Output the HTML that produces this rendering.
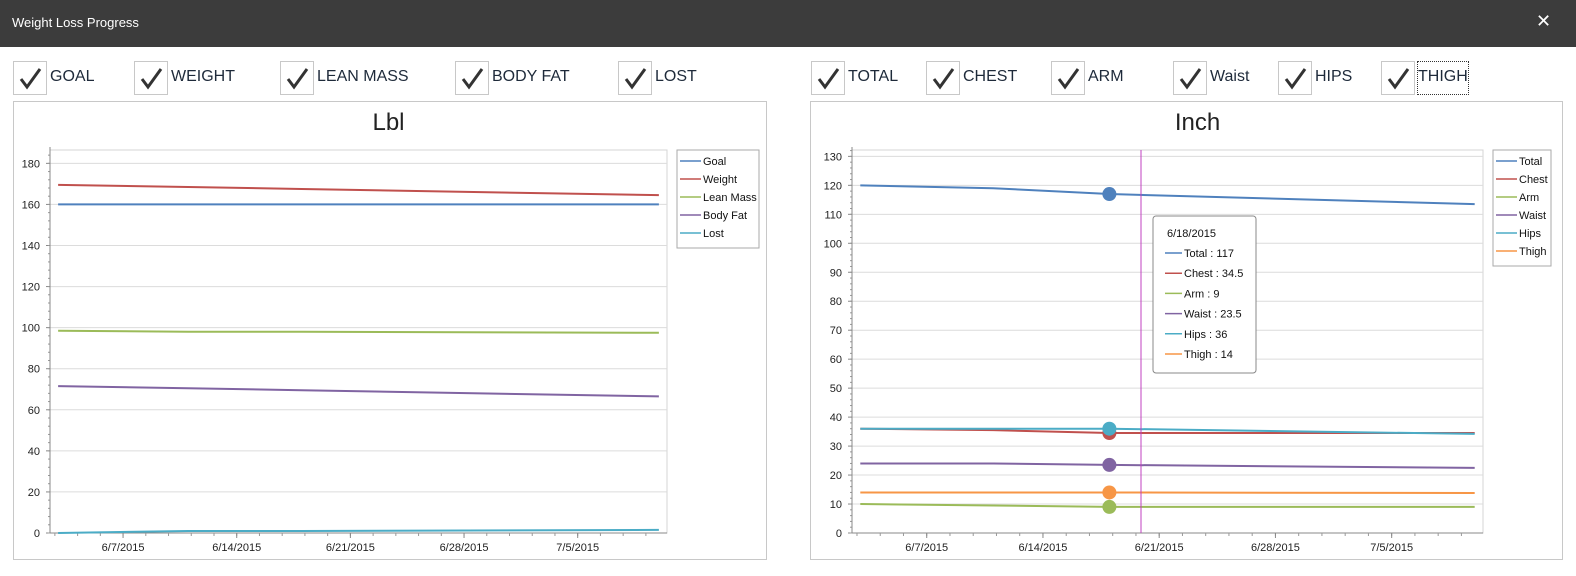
<!DOCTYPE html>
<html><head><meta charset="utf-8">
<style>
body{margin:0;width:1576px;height:576px;overflow:hidden;background:#fff;font-family:"Liberation Sans",sans-serif;position:relative}
.tb{position:absolute;left:0;top:0;width:1576px;height:47px;background:#3c3c3c;color:#fff}
.cb{position:absolute;top:61px;width:32px;height:32px;border:1px solid #c8c8c8;background:#fff}
.cl{position:absolute;top:68px;font-size:16px;color:#1e2a3a}
.panel{position:absolute;top:101px;height:457px;border:1px solid #c8c8c8;background:#fff}
</style></head><body>
<div class="tb">
<span style="position:absolute;left:12px;top:15px;font-size:13px">Weight Loss Progress</span>
<span style="position:absolute;left:1536px;top:11px;font-size:18px">✕</span>
</div>
<div class="panel" style="left:13px;width:752px"></div>
<div class="panel" style="left:810px;width:751px"></div>
<div id="checks"></div>
<svg id="svg" width="1576" height="576" style="position:absolute;left:0;top:0"></svg>
<script>
const leftChecks=["GOAL","WEIGHT","LEAN MASS","BODY FAT","LOST"];
const rightChecks=["TOTAL","CHEST","ARM","Waist","HIPS","THIGH"];
const leftCheckX=[13,134,280,455,618];
const rightCheckX=[811,926,1051,1173,1278,1381];
const ch=document.getElementById('checks');
function addCheck(lbl,x,focus){
  const b=document.createElement('div');b.className='cb';b.style.left=x+'px';
  
  
  b.innerHTML='<svg width="32" height="32"><path d="M7 17 L13 25 L26 7" stroke="#333" stroke-width="3" fill="none"/></svg>';
  ch.appendChild(b);
  const t=document.createElement('div');t.className='cl';t.style.left=(x+37)+'px';t.textContent=lbl;
  if(focus){t.style.outline='1px dotted #333';t.style.top='62px';t.style.padding='6px 0';t.style.height='20px';}
  
  
  ch.appendChild(t);
}
leftChecks.forEach((l,i)=>addCheck(l,leftCheckX[i],false));
rightChecks.forEach((l,i)=>addCheck(l,rightCheckX[i],i==5));

// data: days since 6/3/2015
const days=[0,8,15,37];
const leftNames=["Goal","Weight","Lean Mass","Body Fat","Lost"];
const goal=[160,160,160,160];
const weight=[169.5,168.5,167.5,164.5];
const leanMass=[98.5,98,98,97.5];
const bodyFat=[71.5,70.5,69.5,66.5];
const lost=[0,1,1,1.5];
const rightNames=["Total","Chest","Arm","Waist","Hips","Thigh"];
const total=[120,119,117,113.5];
const chest=[36,35.5,34.5,34.5];
const arm=[10,9.5,9,9];
const waist=[24,24,23.5,22.5];
const hips=[36,36,36,34.2];
const thigh=[14,14,14,13.8];
const dateLabels=["6/7/2015","6/14/2015","6/21/2015","6/28/2015","7/5/2015"];
const dateLabelDays=[4,11,18,25,32];
const leftTicks=[0,20,40,60,80,100,120,140,160,180];
const rightTicks=[0,10,20,30,40,50,60,70,80,90,100,110,120,130];
const hoverDay=15;

const C=["#4f81bd","#c0504d","#9bbb59","#8064a2","#4bacc6","#f79646"];
const svg=document.getElementById('svg');const NS="http://www.w3.org/2000/svg";
function el(t,a,p){const e=document.createElementNS(NS,t);for(const k in a)e.setAttribute(k,a[k]);(p||svg).appendChild(e);return e;}

function chart(o){
  const X=d=>o.x0+(d+0.5)/38*(o.x1-o.x0);
  const Y=v=>o.y1-(v-o.vmin)/(o.vmax-o.vmin)*(o.y1-o.y0);
  const g=el('g',{});
  const tt=el('text',{x:(o.x0+o.x1)/2+ (o.tdx||0),y:130,'font-size':24,'text-anchor':'middle',fill:'#222'},g);tt.textContent=o.title;
  
  el('rect',{x:o.x0,y:o.y0,width:o.x1-o.x0,height:o.y1-o.y0,fill:'none',stroke:'#d4d4d4'},g);
  o.ticks.forEach(v=>{
    const gl=el('line',{x1:o.x0,x2:o.x1,y1:Y(v),y2:Y(v),stroke:'#dcdcdc'},g);
    
    el('line',{x1:o.x0-4,x2:o.x0,y1:Y(v),y2:Y(v),stroke:'#888'},g);
    const t=el('text',{x:o.x0-10,y:Y(v)+4,'font-size':11,'text-anchor':'end',fill:'#222'},g);t.textContent=v;
    
  });
  const step=o.ticks[1]-o.ticks[0];
  for(let v=o.vmin;v<=o.vmax;v+=step/5)el('line',{x1:o.x0-2,x2:o.x0,y1:Y(v),y2:Y(v),stroke:'#999'},g);
  el('line',{x1:o.x0,x2:o.x0,y1:o.y0-3,y2:o.y1,stroke:'#888'},g);
  el('line',{x1:o.x0,x2:o.x1,y1:o.y1,y2:o.y1,stroke:'#888'},g);
  for(let d=-0.2;d<=37.5;d+=1.4)el('line',{x1:X(d),x2:X(d),y1:o.y1,y2:o.y1+3,stroke:'#999'},g);
  dateLabels.forEach((l,i)=>{
    const x=X(dateLabelDays[i]);el('line',{x1:x,x2:x,y1:o.y1,y2:o.y1+5,stroke:'#888'},g);
    const t=el('text',{x:x,y:o.y1+18,'font-size':11,'text-anchor':'middle',fill:'#222'},g);t.textContent=l;
    
  });
  o.series.forEach((s,i)=>{
    const p=el('polyline',{points:days.map((d,j)=>X(d)+','+Y(s[j])).join(' '),fill:'none',stroke:C[i],'stroke-width':2},g);
    
    
  });
  // legend
  const L=o.leg;
  el('rect',{x:L.x,y:o.y0,width:L.w,height:o.names.length*18+8,fill:'#fff',stroke:'#aaa'},g);
  o.names.forEach((n,i)=>{
    const y=o.y0+11+i*18;
    const le=el('g',{},g);
    el('line',{x1:L.x+3,x2:L.x+24,y1:y,y2:y,stroke:C[i],'stroke-width':1.5},le);
    const t=el('text',{x:L.x+26,y:y+4,'font-size':11,fill:'#111'},le);t.textContent=n;
  });
  return {X,Y,g};
}
chart({name:'lbl-chart',title:'Lbl',x0:50,x1:667,y0:150,y1:533,vmin:0,vmax:186.5,ticks:leftTicks,
  series:[goal,weight,leanMass,bodyFat,lost],names:leftNames,leg:{x:677,w:82},tdx:30});
const R=chart({name:'inch-chart',title:'Inch',x0:852,x1:1483,y0:150,y1:533,vmin:0,vmax:132.2,ticks:rightTicks,
  series:[total,chest,arm,waist,hips,thigh],names:rightNames,leg:{x:1493,w:58},tdx:30});
// hover line, markers, tooltip
const hv=el('line',{x1:1141,x2:1141,y1:150,y2:533,stroke:'#c040c0','stroke-width':1},R.g);

const hi=days.indexOf(hoverDay);
const rs=[total,chest,arm,waist,hips,thigh];
[0,1,3,5,2,4].forEach(i=>{
  const m=el('circle',{cx:R.X(hoverDay),cy:R.Y(rs[i][hi]),r:7,fill:C[i]},R.g);
  
});
const tip=el('g',{},R.g);
el('rect',{x:1153,y:216,width:103,height:157,rx:3,fill:'#fff',stroke:'#888'},tip);
const td=el('text',{x:1167,y:237,'font-size':11,fill:'#111'},tip);td.textContent='6/18/2015';
rightNames.forEach((n,i)=>{
  const y=253+i*20.2;
  el('line',{x1:1165,x2:1182,y1:y,y2:y,stroke:C[i],'stroke-width':1.5},tip);
  const t=el('text',{x:1184,y:y+4,'font-size':11,fill:'#111'},tip);t.textContent=n+' : '+rs[i][hi];
});
</script>
</body></html>
